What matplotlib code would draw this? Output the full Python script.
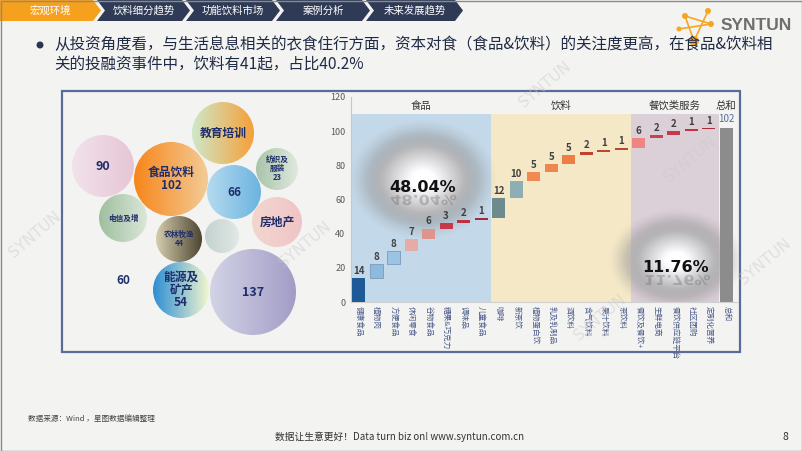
import numpy as np
import matplotlib.pyplot as plt
from matplotlib.patches import Circle, Polygon, Rectangle, PathPatch
from matplotlib.colors import to_rgb
from matplotlib.textpath import TextPath
from matplotlib.font_manager import FontProperties
from matplotlib.transforms import Affine2D, IdentityTransform

plt.rcParams['font.family'] = ['Noto Sans CJK SC', 'DejaVu Sans']

# ---- data ----
nav_tabs = ['宏观环境', '饮料细分趋势', '功能饮料市场', '案例分析', '未来发展趋势']

bubble_labels = ['教育培训', '', '食品饮料', '纺织及\n服装', '', '电信及增', '房地产',
                 '农林牧渔', '', '', '能源及\n矿产', '']
bubble_values = [None, 90, 102, 23, 66, None, None, 44, None, 60, 54, 137]

group_names = ['食品', '饮料', '餐饮类服务', '总和']
group_sizes = [8, 8, 5, 1]
categories = ['健康食品', '植物肉', '方便食品', '休闲零食', '谷物食品', '糖果&巧克力', '调味品', '儿童食品',
              '咖啡', '新茶饮', '植物蛋白饮', '乳及乳制品', '酒饮料', '含气饮料', '果汁饮料', '茶饮料',
              '餐饮及餐饮+', '生鲜电商', '餐饮供应链平台', '社区团购', '定制化营养', '总和']
values = [14, 8, 8, 7, 6, 3, 2, 1,
          12, 10, 5, 5, 5, 2, 1, 1,
          6, 2, 2, 1, 1,
          102]
share_labels = ['48.04%', '11.76%']

# ---- styles / layout ----
BG = '#f3f3f1'
NAVY = '#1f2d6b'
W, H = 802, 451

bubble_xy = [(223, 133), (103, 166), (171, 179), (277, 169), (234, 192), (123, 218),
             (277, 222), (179, 239), (222, 236), (123, 281), (181, 290), (253, 292)]
bubble_r = [31, 31, 37, 21, 27, 24, 25, 23, 17, 0, 28, 43]
bubble_cols = [('#cfe8c8', '#f5a03a'), ('#f2e2ea', '#e6c6d6'), ('#f7861c', '#f3cb95'),
               ('#a9c4a9', '#dfe9de'), ('#b5daf0', '#6cb4df'), ('#9fbf9f', '#dbe6d8'),
               ('#f3d6d0', '#f0c4c6'), ('#d4cdae', '#4e4632'), ('#c4d2cf', '#e1e8e5'),
               (None, None), ('#2d8fd4', '#f1f5cf'), ('#d2d3e6', '#a39dc6')]
bubble_fs = [8.5, 9, 8.5, 5.5, 8.5, 5.5, 8.5, 5.5, 7, 8.5, 8.5, 9]

bar_colors = ['#1d5a96', '#8dbbe0', '#9ac4e6', '#e4aca4', '#de958e', '#c33b4a', '#be3142', '#a8283b',
              '#6d8a8c', '#8daeb2', '#f08a52', '#f0864f', '#ef7d47', '#c1432f', '#b94a31', '#b44a30',
              '#ef8583', '#cf3f4f', '#c93848', '#c23244', '#ad2a3c', '#8c8c8c']
group_bg = ['#c3d8e8', '#f4e8c6', '#dcd0d8', None]

fig = plt.figure(figsize=(8.02, 4.51), dpi=100)
fig.patch.set_facecolor(BG)

# base axes in pixel coordinates
ax0 = fig.add_axes([0, 0, 1, 1])
ax0.set_xlim(0, W)
ax0.set_ylim(H, 0)
ax0.axis('off')

# nav bar
edges = [(0, 93), (97, 182), (186, 272), (276, 362), (366, 455)]
for i, (name, (x0, x1)) in enumerate(zip(nav_tabs, edges)):
    tip = 8
    if i == 0:
        pts = [(x0, 0), (x1, 0), (x1 + tip, 10.5), (x1, 21), (x0, 21)]
        col = '#f5a11e'
    else:
        pts = [(x0, 0), (x1, 0), (x1 + tip, 10.5), (x1, 21), (x0, 21), (x0 + tip, 10.5)]
        col = '#2f3b56'
    ax0.add_patch(Polygon(pts, closed=True, fc=col, ec='none'))
    ax0.text((x0 + x1) / 2 + 4, 10.5, name, color='white', fontsize=7.5,
             ha='center', va='center')

# logo
nodes = [(685, 16), (708, 11), (694, 41), (679, 29), (711, 24)]
for a, b in [(0, 2), (1, 2), (3, 4), (0, 4)]:
    ax0.plot([nodes[a][0], nodes[b][0]], [nodes[a][1], nodes[b][1]], color='#f5a623', lw=1.2)
for (x, y), r in zip(nodes, [3, 3, 5, 2.5, 3]):
    ax0.add_patch(Circle((x, y), r, fc='#f5a623', ec='none', zorder=3))
ax0.text(756, 26, 'SYNTUN', fontsize=12.5, fontweight='bold', color='#6e6e6e',
         family='Liberation Sans', ha='center', va='center')

# bullet text
ax0.add_patch(Circle((40, 45), 3.5, fc='#2a3550', ec='none'))
ax0.text(54, 45, '从投资角度看，与生活息息相关的衣食住行方面，资本对食（食品&饮料）的关注度更高，在食品&饮料相',
         fontsize=11.2, color='#1f2a44', va='center', ha='left')
ax0.text(54, 65, '关的投融资事件中，饮料有41起，占比40.2%', fontsize=11.2, color='#1f2a44',
         va='center', ha='left')

# panel box
ax0.add_patch(Rectangle((62, 91), 678, 261, fc='none', ec='#5b6b98', lw=1.6))

# bubbles
def grad_circle(ax, cx, cy, r, c1, c2):
    g = np.linspace(0, 1, 80)[:, None]
    img = (np.array(to_rgb(c1))[None, :] * (1 - g) + np.array(to_rgb(c2))[None, :] * g)[None, :, :]
    circ = Circle((cx, cy), r, fc='none', ec='none')
    ax.add_patch(circ)
    im = ax.imshow(img, extent=(cx - r, cx + r, cy + r, cy - r), aspect='auto',
                   interpolation='bilinear', zorder=2)
    im.set_clip_path(circ)

for lab, val, (cx, cy), r, (c1, c2), fs in zip(bubble_labels, bubble_values, bubble_xy,
                                                bubble_r, bubble_cols, bubble_fs):
    if r > 0:
        grad_circle(ax0, cx, cy, r, c1, c2)
    parts = [p for p in [lab, '' if val is None else str(val)] if p]
    if parts:
        ax0.text(cx, cy, '\n'.join(parts), fontsize=fs, color=NAVY, ha='center', va='center',
                 fontweight='bold', linespacing=1.0, zorder=4)
ax0.set_xlim(0, W)
ax0.set_ylim(H, 0)

# footer
ax0.text(28, 419, '数据来源：Wind ，星图数据编辑整理', fontsize=5.5, color='#444444', va='center')
ax0.text(400, 437, '数据让生意更好！Data turn biz on! www.syntun.com.cn', fontsize=7,
         color='#333333', ha='center', va='center')
ax0.text(785, 437, '8', fontsize=7.5, color='#333333', ha='center', va='center')
ax0.add_patch(Rectangle((0.5, 0.5), W - 1, H - 1, fc='none', ec='#8a8a8a', lw=1))

# ---- waterfall ----
ax = fig.add_axes([351 / W, (H - 302) / H, (738 - 351) / W, (302 - 97) / H])
ax.set_facecolor('none')
ax.set_xlim(-0.43, 21.66)
ax.set_ylim(0, 120)

bottoms = []
run = 0
for v in values[:-1]:
    bottoms.append(run)
    run += v
bottoms.append(0)
x = np.arange(len(categories))

start = 0
for name, n, bg in zip(group_names, group_sizes, group_bg):
    if bg:
        ax.axvspan(start - 0.45, start + n - 0.45, ymin=0, ymax=110 / 120, color=bg, zorder=0, lw=0)
    ax.text(start + (n - 1) / 2 if bg is None else start + n / 2 - 0.45, 115, name,
            fontsize=7.5, color='#333333', ha='center', va='center')
    start += n

ax.bar(x, values, bottom=bottoms, width=0.74, color=bar_colors,
       edgecolor=['#7a9ab8' if c in ('#8dbbe0', '#9ac4e6') else 'none' for c in bar_colors],
       linewidth=0.6, zorder=3)
for xi, v, b in zip(x[:-1], values[:-1], bottoms[:-1]):
    ax.text(xi, b + v + 1.2, str(v), ha='center', va='bottom', fontsize=7,
            fontweight='bold', color='#404040', zorder=4)
ax.text(x[-1], values[-1] + 2, str(values[-1]), ha='center', va='bottom', fontsize=7,
        color='#5b6b98', zorder=4)

ax.set_yticks(range(0, 121, 20))
ax.tick_params(axis='y', labelsize=6.5, labelcolor='#595959', length=0, pad=4)
ax.set_xticks(x)
ax.set_xticklabels(categories, rotation=270, fontsize=5.5, color='#4a5a8a')
ax.tick_params(axis='x', length=0, pad=3)
for s in ['top', 'right']:
    ax.spines[s].set_visible(False)
ax.spines['left'].set_color('#c8c8c8')
ax.spines['bottom'].set_color('#d0d0d0')

# glows with share labels
def px2data(px, py):
    return ax.transData.inverted().transform((px, H - py))

def glow(cx, cy, rx, ry):
    n = 200
    yy, xx = np.mgrid[-1:1:n * 1j, -1:1:n * 1j]
    r = np.sqrt(xx ** 2 + yy ** 2)
    t = np.clip((r - 0.15) / 0.6, 0, 1)
    lev = 1 - 0.42 * t
    alpha = np.clip((1 - r) / 0.45, 0, 1) ** 1.4
    rgba = np.dstack([lev, lev, lev * 1.01, alpha]).clip(0, 1)
    (x0, y0) = px2data(cx - rx, cy + ry)
    (x1, y1) = px2data(cx + rx, cy - ry)
    ax.imshow(rgba, extent=(x0, x1, y0, y1), aspect='auto', zorder=2, interpolation='bilinear')

fp = FontProperties(family='DejaVu Sans', weight='bold')
for s, (cx, base), (rx, ry) in zip(share_labels, [(423, 192), (676, 272)], [(75, 60), (68, 52)]):
    glow(cx, base - 12, rx, ry)
    ax.text(cx, H - base, s, transform=IdentityTransform(), fontsize=11.5, fontweight='bold',
            family='DejaVu Sans', color='#111111', ha='center', va='baseline', zorder=5)
    tp = TextPath((0, 0), s, size=16, prop=fp)
    w = tp.get_extents().width
    tr = Affine2D().translate(-w / 2, 0).scale(1, -0.85).translate(cx, H - base - 3)
    ax.add_patch(PathPatch(tp, transform=tr, fc='#666666', ec='none', alpha=0.35, zorder=5))
ax.set_xlim(-0.43, 21.66)
ax.set_ylim(0, 120)

# ---- watermarks ----
axw = fig.add_axes([0, 0, 1, 1], zorder=10)
axw.set_xlim(0, W)
axw.set_ylim(H, 0)
axw.axis('off')
for wx, wy in [(35, 235), (305, 245), (545, 85), (600, 318), (690, 160), (765, 262)]:
    axw.text(wx, wy, 'SYNTUN', rotation=40, fontsize=11, color='#c8c8c8', alpha=0.45,
             ha='center', va='center', family='DejaVu Sans')

fig.savefig('out.png', dpi=100, facecolor=BG)
